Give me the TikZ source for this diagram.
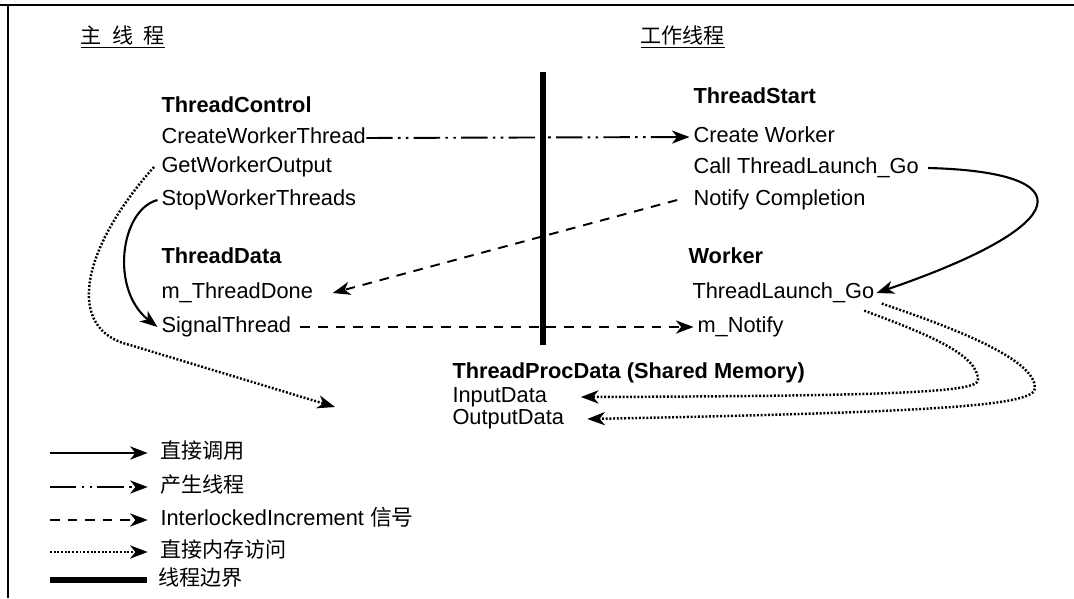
\documentclass[tikz,border=0pt]{standalone}
\usepackage{fontspec}
\setmainfont{Liberation Sans}
\newfontfamily\cjk{Noto Sans CJK SC}
\usetikzlibrary{arrows.meta}

\begin{document}
\begin{tikzpicture}[x=0.02cm, y=-0.02cm, >={Stealth[length=10pt,width=7.5pt,inset=3pt]}, semithick]
\tikzstyle{every node}=[font=\fontsize{12.4}{14}\selectfont, inner sep=0pt, anchor=west, text height=9pt, text depth=2.5pt]
\tikzstyle{head}=[font=\fontsize{12.4}{14}\selectfont\bfseries]
\tikzstyle{cn}=[font=\fontsize{12}{14}\selectfont\cjk]
\tikzstyle{call}=[->, line width=1.2pt]
\tikzstyle{spawn}=[->, line width=1.1pt, dash pattern=on 15pt off 3pt on 1.5pt off 3pt on 1.5pt off 3pt]
\tikzstyle{signal}=[->, line width=1.1pt, dash pattern=on 5.5pt off 4.5pt]
\tikzstyle{memory}=[->, line width=1.4pt, dash pattern=on 1.1pt off 1pt]
\tikzstyle{border}=[line width=3.8pt]
\useasboundingbox (0,0) rectangle (1074,598);
% frame
\draw[line width=0.8pt] (0,5) -- (1074,5);
\draw[line width=0.8pt] (8,5) -- (8,598);
% titles
\node[cn] (main) at (80,38) {\underline{主\hspace{6pt}线\hspace{6pt}程}};
\node[cn] (work) at (640,38) {\underline{工作线程}};
% main thread
\node[head] (tc)  at (161,107) {ThreadControl};
\node       (cwt) at (161,138) {CreateWorkerThread};
\node       (gwo) at (161,167) {GetWorkerOutput};
\node       (swt) at (161,200) {StopWorkerThreads};
\node[head] (td)  at (161,258) {ThreadData};
\node       (mtd) at (161,293) {m\_ThreadDone};
\node       (st)  at (161,327) {SignalThread};
% worker thread
\node[head] (ts)  at (693,98)  {ThreadStart};
\node       (cw)  at (693,137) {Create Worker};
\node       (ctl) at (693,168) {Call ThreadLaunch\_Go};
\node       (nc)  at (693,200) {Notify Completion};
\node[head] (wk)  at (688,258) {Worker};
\node       (tlg) at (692,293) {ThreadLaunch\_Go};
\node       (mn)  at (697,327) {m\_Notify};
% shared memory
\node[head] (tpd)     at (452,373) {ThreadProcData (Shared Memory)};
\node       (indata)  at (452,397) {InputData};
\node       (outdata) at (452,419) {OutputData};
\coordinate (mem) at (335,407);
% thread boundary
\coordinate (bt) at (543,72);
\coordinate (bb) at (543,345);
\draw[border] (bt) -- (bb);
% connectors
\draw[spawn] (cwt.east) -- ([xshift=-2pt]cw.west);
\draw[signal] ([xshift=-9pt]nc.west) -- ([xshift=11pt]mtd.east);
\draw[signal] ([xshift=5pt]st.east) -- ([xshift=-2pt]mn.west);
\draw[call] ([xshift=-2pt]swt.west) .. controls (120,210) and (110,290) .. ([xshift=-2pt]st.west);
\draw[call] ([xshift=5pt]ctl.east) .. controls (1085,172) and (1075,225) .. ([xshift=1pt]tlg.east);
\draw[memory] ([xshift=-4pt]gwo.west) .. controls (80,250) and (65,330) .. (130,345) -- (mem);
\draw[memory] ([xshift=-6pt,yshift=-4pt]tlg.south east) .. controls (930,335) and (978,355) .. (978,380)
  .. controls (978,392) and (900,396) .. ([xshift=19pt]indata.east);
\draw[memory] ([xshift=4pt]tlg.south east) .. controls (960,330) and (1035,360) .. (1035,388)
  .. controls (1035,405) and (950,412) .. ([xshift=13pt]outdata.east);
% legend
\coordinate (k1) at (50,453);
\coordinate (k2) at (50,487);
\coordinate (k3) at (50,520);
\coordinate (k4) at (50,552);
\coordinate (k5) at (50,580);
\node[cn] (l1) at (160,453) {直接调用};
\node[cn] (l2) at (160,487) {产生线程};
\node     (l3) at (160,520) {InterlockedIncrement {\cjk 信号}};
\node[cn] (l4) at (160,552) {直接内存访问};
\node[cn] (l5) at (158,580) {线程边界};
\draw[call] (k1) -- ([xshift=-7pt]l1.west);
\draw[spawn] (k2) -- ([xshift=-7pt]l2.west);
\draw[signal] (k3) -- ([xshift=-7pt]l3.west);
\draw[memory] (k4) -- ([xshift=-7pt]l4.west);
\draw[border] (k5) -- ([xshift=-6pt]l5.west);
\end{tikzpicture}
\end{document}
